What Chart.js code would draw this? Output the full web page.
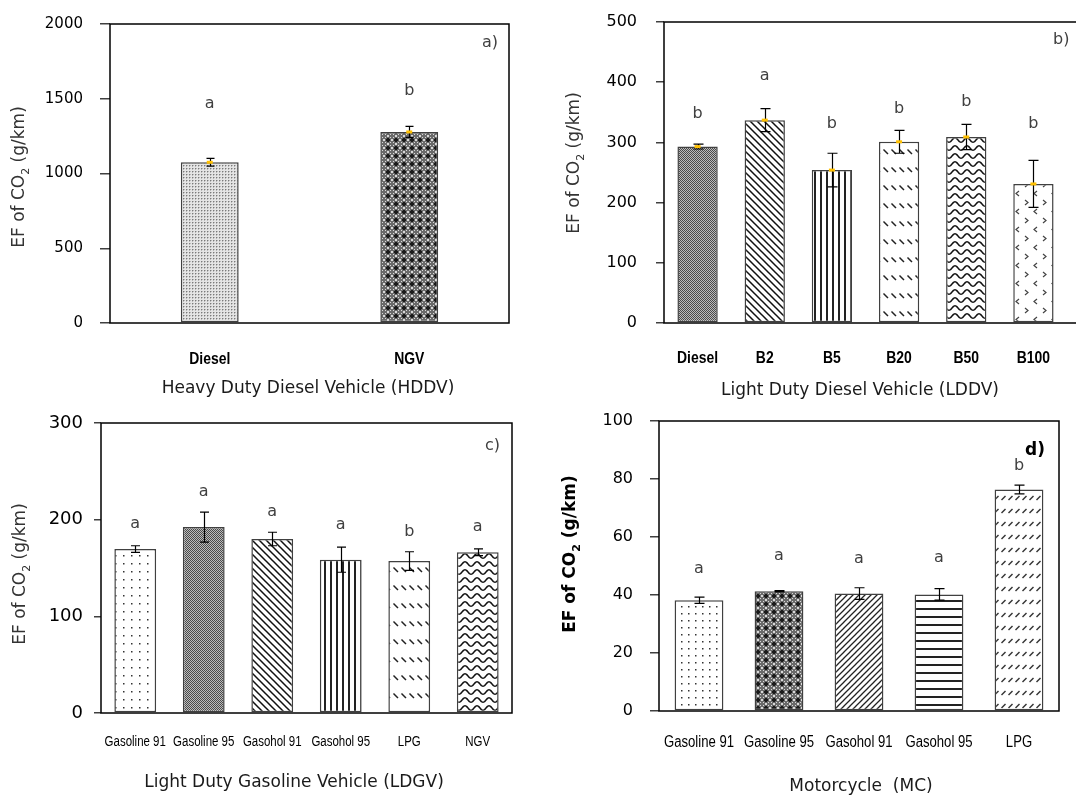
<!DOCTYPE html>
<html><head><meta charset="utf-8">
<script src="https://cdn.jsdelivr.net/npm/chart.js@4.4.0/dist/chart.umd.min.js"></script>
<style>
html,body{margin:0;padding:0;background:#fff;}
body{width:1076px;height:795px;position:relative;overflow:hidden;}
canvas{position:absolute;}
</style></head>
<body>
<canvas id="pa" width="538" height="400" style="left:0;top:0;width:538px;height:400px"></canvas>
<canvas id="pb" width="538" height="400" style="left:538px;top:0;width:538px;height:400px"></canvas>
<canvas id="pc" width="538" height="395" style="left:0;top:400px;width:538px;height:395px"></canvas>
<canvas id="pd" width="538" height="395" style="left:538px;top:400px;width:538px;height:395px"></canvas>
<script>
// ---------- DATA ----------
const hddvCategories = ['Diesel', 'NGV'];
const hddvValues = [1075, 1278];
const hddvErrors = [26, 37];
const hddvLetters = ['a', 'b'];
const hddvLetterY = [1436, 1525];
const hddvTicks = [0, 500, 1000, 1500, 2000];

const lddvCategories = ['Diesel', 'B2', 'B5', 'B20', 'B50', 'B100'];
const lddvValues = [293, 337, 254, 301, 309, 231];
const lddvErrors = [4, 19, 28, 19, 21, 39];
const lddvLetters = ['b', 'a', 'b', 'b', 'b', 'b'];
const lddvLetterY = [340, 404, 324, 349, 361, 324];
const lddvTicks = [0, 100, 200, 300, 400, 500];

const ldgvCategories = ['Gasoline 91', 'Gasoline 95', 'Gasohol 91', 'Gasohol 95', 'LPG', 'NGV'];
const ldgvValues = [169.6, 192.3, 180, 158.6, 157.2, 166.2];
const ldgvErrors = [3.4, 15.5, 7, 13, 9.6, 3.5];
const ldgvLetters = ['a', 'a', 'a', 'a', 'b', 'a'];
const ldgvLetterY = [191, 224.6, 203.7, 190.3, 183, 188.2];
const ldgvTicks = [0, 100, 200, 300];

const mcCategories = ['Gasoline 91', 'Gasoline 95', 'Gasohol 91', 'Gasohol 95', 'LPG'];
const mcValues = [38.2, 41.3, 40.5, 40.2, 76.4];
const mcErrors = [1.1, 0.2, 2, 2, 1.5];
const mcLetters = ['a', 'a', 'a', 'a', 'b'];
const mcLetterY = [47.7, 52, 51, 51.3, 83];
const mcTicks = [0, 20, 40, 60, 80, 100];

// ---------- PATTERNS ----------
function mkTile(w, h, bg, draw) {
  const c = document.createElement('canvas'); c.width = w; c.height = h;
  const g = c.getContext('2d'); g.fillStyle = bg; g.fillRect(0, 0, w, h);
  draw(g, w, h);
  return g.createPattern(c, 'repeat');
}
function px(g, col, pts) { g.fillStyle = col; pts.forEach(([x, y]) => g.fillRect(x, y, 1, 1)); }
const P = {
  fineDots: mkTile(3, 3, '#e4e4e4', g => { px(g, '#7a7a7a', [[0, 0]]); px(g, '#b8b8b8', [[1, 0], [0, 1]]); }),
  diamond: mkTile(8, 8, '#6a6a6a', g => {
    px(g, '#d8d8d8', [[3, 0], [4, 0], [0, 3], [0, 4], [7, 3], [7, 4], [3, 7], [4, 7], [1, 1], [6, 1], [1, 6], [6, 6]]);
    px(g, '#1a1a1a', [[3, 2], [4, 2], [3, 5], [4, 5], [2, 3], [2, 4], [5, 3], [5, 4], [3, 3], [4, 4], [3, 4], [4, 3]]);
  }),
  checker: mkTile(2, 2, '#bcbcbc', g => { px(g, '#4a4a4a', [[0, 0], [1, 1]]); }),
  diagBack: mkTile(7, 7, '#fff', g => {
    g.strokeStyle = '#111'; g.lineWidth = 1.5; g.beginPath();
    [-7, 0, 7].forEach(k => { g.moveTo(k - 1, -1); g.lineTo(k + 8, 8); }); g.stroke();
  }),
  diagFwd: mkTile(6, 6, '#fff', g => {
    g.strokeStyle = '#222'; g.lineWidth = 1.3; g.beginPath();
    [-6, 0, 6].forEach(k => { g.moveTo(k - 1, 7); g.lineTo(k + 7, -1); }); g.stroke();
  }),
  vlines: mkTile(6, 1, '#fff', g => { g.fillStyle = '#222'; g.fillRect(0, 0, 2, 1); }),
  hlines: mkTile(1, 8, '#fff', g => { g.fillStyle = '#222'; g.fillRect(0, 0, 1, 2); }),
  dashBack: mkTile(8, 18, '#fff', g => {
    g.strokeStyle = '#222'; g.lineWidth = 1.5; g.beginPath(); g.moveTo(1.5, 5.5); g.lineTo(6, 10); g.stroke();
  }),
  dashFwd: mkTile(7, 13, '#fff', g => {
    g.strokeStyle = '#333'; g.lineWidth = 1.4; g.beginPath(); g.moveTo(1.5, 9); g.lineTo(5.5, 5); g.stroke();
  }),
  waves: mkTile(12, 8, '#fff', g => {
    g.strokeStyle = '#111'; g.lineWidth = 1.5; g.beginPath();
    for (let x = -1; x <= 13; x += 0.5) { const y = 4 + 2.2 * Math.sin(x / 12 * 2 * Math.PI); if (x === -1) g.moveTo(x, y); else g.lineTo(x, y); }
    g.stroke();
  }),
  chevrons: mkTile(18, 18, '#fff', g => {
    g.strokeStyle = '#444'; g.lineWidth = 1.2; g.beginPath();
    g.moveTo(1, 2); g.lineTo(4, 4.5); g.lineTo(1, 7);
    g.moveTo(13, 11); g.lineTo(10, 13.5); g.lineTo(13, 16); g.stroke();
  }),
  dots8: mkTile(8, 8, '#fff', g => { g.fillStyle = '#333'; g.fillRect(3, 3, 1.5, 1.5); }),
  dots7: mkTile(7, 7, '#fff', g => { g.fillStyle = '#333'; g.fillRect(3, 3, 1.5, 1.5); })
};

// ---------- DRAW HELPERS ----------
function drawYTitle(ctx, x, yc, size, bold, color) {
  ctx.save(); ctx.translate(x, yc); ctx.rotate(-Math.PI / 2);
  const w = bold ? 'bold ' : '';
  const f = w + size + 'px "DejaVu Sans"';
  const fs = w + Math.round(size * 0.62) + 'px "DejaVu Sans"';
  const p1 = 'EF of CO', p2 = '2', p3 = ' (g/km)';
  ctx.font = f; const w1 = ctx.measureText(p1).width, w3 = ctx.measureText(p3).width;
  ctx.font = fs; const w2 = ctx.measureText(p2).width;
  let sx = -(w1 + w2 + w3) / 2;
  ctx.textAlign = 'left'; ctx.textBaseline = 'alphabetic'; ctx.fillStyle = color;
  ctx.font = f; ctx.fillText(p1, sx, 0); sx += w1;
  ctx.font = fs; ctx.fillText(p2, sx, size * 0.28); sx += w2;
  ctx.font = f; ctx.fillText(p3, sx, 0);
  ctx.restore();
}

function makePanel(id, cfg) {
  const canvas = document.getElementById(id);
  const annot = {
    id: 'annot_' + id,
    afterDatasetDraw(chart, args) {
      if (args.index !== 0) return;
      const meta = chart.getDatasetMeta(0), ys = chart.scales.y, ctx = chart.ctx;
      ctx.save(); ctx.strokeStyle = '#000'; ctx.lineWidth = 1.2;
      cfg.errors.forEach((e, i) => {
        const el = meta.data[i], v = cfg.values[i];
        const x = Math.round(el.x) + 0.5;
        const y1 = ys.getPixelForValue(v + e), y2 = ys.getPixelForValue(v - e);
        ctx.beginPath();
        ctx.moveTo(x, y1); ctx.lineTo(x, y2);
        ctx.moveTo(x - cfg.cap, y1); ctx.lineTo(x + cfg.cap, y1);
        ctx.moveTo(x - cfg.cap, y2); ctx.lineTo(x + cfg.cap, y2);
        ctx.stroke();
      });
      ctx.restore();
    },
    afterDraw(chart) {
      const ctx = chart.ctx, a = chart.chartArea, ys = chart.scales.y, xs = chart.scales.x;
      const meta = chart.getDatasetMeta(0);
      ctx.save();
      ctx.strokeStyle = '#000'; ctx.lineWidth = 1.5;
      if (cfg.openRight) {
        ctx.beginPath(); ctx.moveTo(chart.width, a.top); ctx.lineTo(a.left, a.top);
        ctx.lineTo(a.left, a.bottom); ctx.lineTo(chart.width, a.bottom); ctx.stroke();
      } else {
        ctx.strokeRect(a.left, a.top, a.right - a.left, a.bottom - a.top);
      }
      // category labels (narrow)
      ctx.font = cfg.xFont; ctx.fillStyle = '#000'; ctx.textAlign = 'center'; ctx.textBaseline = 'middle';
      cfg.categories.forEach((c, i) => {
        ctx.save(); ctx.translate(xs.getPixelForValue(i), a.bottom + cfg.xLabelDy);
        ctx.scale(cfg.xLabelSx, 1); ctx.fillText(c, 0, 0); ctx.restore();
      });
      // significance letters
      ctx.font = '16px "DejaVu Sans"'; ctx.fillStyle = '#404040';
      ctx.textAlign = 'center'; ctx.textBaseline = 'alphabetic';
      cfg.letters.forEach((l, i) => { ctx.fillText(l, meta.data[i].x, ys.getPixelForValue(cfg.letterY[i])); });
      // panel tag
      ctx.font = cfg.tag.font; ctx.fillStyle = cfg.tag.color; ctx.textAlign = 'left';
      ctx.fillText(cfg.tag.text, cfg.tag.x - cfg.ox, cfg.tag.y - cfg.oy);
      // x axis title
      ctx.font = '17px "DejaVu Sans"'; ctx.fillStyle = '#1a1a1a'; ctx.textAlign = 'center';
      ctx.fillText(cfg.xTitle.text, cfg.xTitle.x - cfg.ox, cfg.xTitle.y - cfg.oy);
      ctx.restore();
      drawYTitle(ctx, cfg.yTitle.x - cfg.ox, cfg.yTitle.y - cfg.oy, cfg.yTitle.size, cfg.yTitle.bold, cfg.yTitle.color);
    }
  };
  const datasets = [{
    type: 'bar', data: cfg.values, backgroundColor: cfg.patterns,
    borderColor: '#404040', borderWidth: 1.5, borderSkipped: false,
    barPercentage: cfg.barPct, categoryPercentage: 1, order: 2
  }];
  if (cfg.meanMarker) {
    datasets.push({
      type: 'line', data: cfg.values, showLine: false, pointStyle: 'line',
      pointRadius: 3, pointBorderWidth: 3, pointBorderColor: '#FFC000',
      pointBackgroundColor: '#FFC000', order: 1
    });
  }
  return new Chart(canvas, {
    type: 'bar',
    data: { labels: cfg.categories, datasets },
    options: {
      responsive: false, animation: false, events: [],
      layout: { padding: cfg.padding, autoPadding: false },
      plugins: { legend: { display: false }, tooltip: { enabled: false } },
      scales: {
        x: {
          grid: { display: false, drawTicks: false }, border: { display: false },
          ticks: { display: false },
          afterFit: s => { s.height = cfg.xHeight; s.paddingLeft = 0; s.paddingRight = 0; s.paddingTop = 0; s.paddingBottom = 0; }
        },
        y: {
          min: cfg.ticks[0], max: cfg.ticks[cfg.ticks.length - 1],
          afterBuildTicks: s => { s.ticks = cfg.ticks.map(v => ({ value: v })); },
          grid: { drawOnChartArea: false, drawTicks: true, tickLength: cfg.tickLen, color: '#404040', lineWidth: 1.5 },
          border: { display: false },
          ticks: { font: { family: 'DejaVu Sans', size: cfg.yFontSize }, color: '#000', padding: cfg.yPad, callback: v => String(v) },
          afterFit: s => { s.width = cfg.yWidth; s.paddingTop = 0; s.paddingBottom = 0; s.paddingLeft = 0; s.paddingRight = 0; }
        }
      }
    },
    plugins: [annot]
  });
}

makePanel('pa', {
  ox: 0, oy: 0,
  categories: hddvCategories, values: hddvValues, errors: hddvErrors,
  letters: hddvLetters, letterY: hddvLetterY, ticks: hddvTicks,
  patterns: [P.fineDots, P.diamond], barPct: 0.29, cap: 4, meanMarker: true,
  padding: { top: 24, right: 29, left: 0, bottom: 0 }, yWidth: 110, xHeight: 77,
  yFontSize: 15, tickLen: 10, yPad: 17,
  xFont: 'bold 17px "Liberation Sans"', xLabelDy: 36, xLabelSx: 0.82,
  tag: { text: 'a)', x: 482, y: 47, font: '16px "DejaVu Sans"', color: '#404040' },
  xTitle: { text: 'Heavy Duty Diesel Vehicle (HDDV)', x: 308, y: 393 },
  yTitle: { x: 24, y: 177, size: 17, bold: false, color: '#333' }
});
makePanel('pb', {
  ox: 538, oy: 0, openRight: true,
  categories: lddvCategories, values: lddvValues, errors: lddvErrors,
  letters: lddvLetters, letterY: lddvLetterY, ticks: lddvTicks,
  patterns: [P.checker, P.diagBack, P.vlines, P.dashBack, P.waves, P.chevrons], barPct: 0.6, cap: 5, meanMarker: true,
  padding: { top: 22, right: 9, left: 0, bottom: 0 }, yWidth: 126, xHeight: 77,
  yFontSize: 16, tickLen: 8, yPad: 19,
  xFont: 'bold 17px "Liberation Sans"', xLabelDy: 35, xLabelSx: 0.82,
  tag: { text: 'b)', x: 1053, y: 44, font: '16px "DejaVu Sans"', color: '#404040' },
  xTitle: { text: 'Light Duty Diesel Vehicle (LDDV)', x: 860, y: 395 },
  yTitle: { x: 579, y: 163, size: 17, bold: false, color: '#333' }
});
makePanel('pc', {
  ox: 0, oy: 400,
  categories: ldgvCategories, values: ldgvValues, errors: ldgvErrors,
  letters: ldgvLetters, letterY: ldgvLetterY, ticks: ldgvTicks,
  patterns: [P.dots8, P.checker, P.diagBack, P.vlines, P.dashBack, P.waves], barPct: 0.61, cap: 4.5, meanMarker: false,
  padding: { top: 23, right: 26, left: 0, bottom: 0 }, yWidth: 101, xHeight: 82,
  yFontSize: 18, tickLen: 7, yPad: 11,
  xFont: '14px "Liberation Sans"', xLabelDy: 29, xLabelSx: 0.82,
  tag: { text: 'c)', x: 485, y: 450, font: '16px "DejaVu Sans"', color: '#404040' },
  xTitle: { text: 'Light Duty Gasoline Vehicle (LDGV)', x: 294, y: 787 },
  yTitle: { x: 25, y: 574, size: 17, bold: false, color: '#333' }
});
makePanel('pd', {
  ox: 538, oy: 400,
  categories: mcCategories, values: mcValues, errors: mcErrors,
  letters: mcLetters, letterY: mcLetterY, ticks: mcTicks,
  patterns: [P.dots7, P.diamond, P.diagFwd, P.hlines, P.dashFwd], barPct: 0.61, cap: 5, meanMarker: false,
  padding: { top: 21, right: 17, left: 0, bottom: 0 }, yWidth: 121, xHeight: 84,
  yFontSize: 16, tickLen: 9, yPad: 17,
  xFont: '16px "Liberation Sans"', xLabelDy: 31.5, xLabelSx: 0.82,
  tag: { text: 'd)', x: 1025, y: 455, font: 'bold 17px "DejaVu Sans"', color: '#000' },
  xTitle: { text: 'Motorcycle  (MC)', x: 861, y: 791 },
  yTitle: { x: 575, y: 554, size: 17, bold: true, color: '#000' }
});
</script>
</body></html>
